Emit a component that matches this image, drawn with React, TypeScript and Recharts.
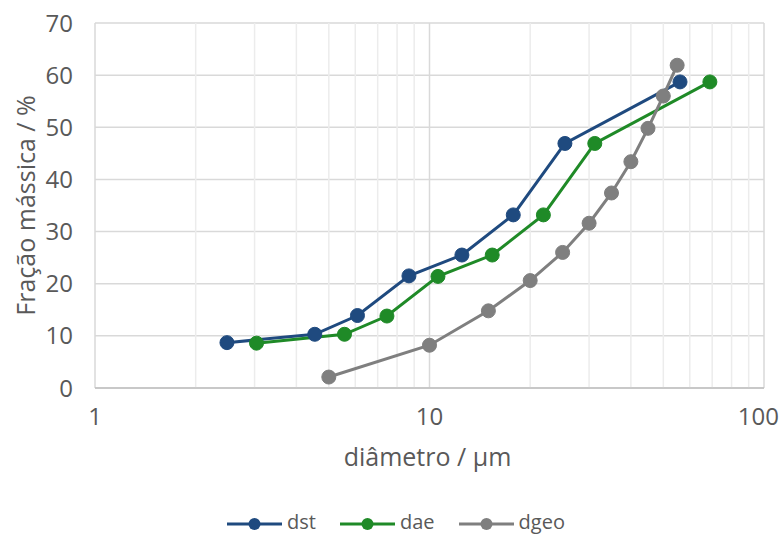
import { LineChart, Line, XAxis, YAxis, CartesianGrid, ReferenceLine, Legend } from "recharts";

// diâmetro (µm) / fração mássica (%) per series
const dstX = [2.48, 4.54, 6.09, 8.68, 12.5, 17.8, 25.4, 56.1];
const dstY = [8.7, 10.3, 13.9, 21.5, 25.5, 33.2, 46.9, 58.7];
const daeX = [3.04, 5.57, 7.46, 10.6, 15.4, 21.9, 31.2, 68.9];
const daeY = [8.6, 10.3, 13.8, 21.4, 25.5, 33.2, 46.9, 58.7];
const dgeoX = [5, 10, 15, 20, 25, 30, 35, 40, 45, 50, 55];
const dgeoY = [2.1, 8.2, 14.8, 20.6, 26.0, 31.6, 37.4, 43.4, 49.8, 56.0, 61.9];

const xTicks = [1, 10, 100];
const minorX = [2, 3, 4, 5, 6, 7, 8, 9, 20, 30, 40, 50, 60, 70, 80, 90];
const yTicks = [0, 10, 20, 30, 40, 50, 60, 70];

const toPoints = (xs: number[], ys: number[]) => xs.map((x, i) => ({ x, y: ys[i] }));

const series = [
  { name: "dst", color: "#1f4a7f", data: toPoints(dstX, dstY) },
  { name: "dae", color: "#1f8a27", data: toPoints(daeX, daeY) },
  { name: "dgeo", color: "#7f7f7f", data: toPoints(dgeoX, dgeoY) },
];

const FONT = "'Open Sans', sans-serif";
const TEXT = "#595959";

const LegendContent = () => (
  <div
    style={{
      height: 26,
      lineHeight: "26px",
      display: "flex",
      justifyContent: "center",
      alignItems: "center",
      gap: 24,
      fontFamily: FONT,
      fontSize: 20,
      color: TEXT,
      paddingLeft: 28,
    }}
  >
    {series.map((s) => (
      <div key={s.name} style={{ display: "flex", alignItems: "center", gap: 5, height: 26 }}>
        <svg width={55} height={14} style={{ display: "block", marginTop: 4 }}>
          <line x1={0} y1={7} x2={55} y2={7} stroke={s.color} strokeWidth={3} />
          <circle cx={27.5} cy={7} r={6} fill={s.color} />
        </svg>
        <span>{s.name}</span>
      </div>
    ))}
  </div>
);

// last label sits flush with the right edge, as in the source
const XTick = ({ x, y, payload, index, visibleTicksCount }: any) => {
  const last = index === visibleTicksCount - 1;
  return (
    <text
      x={last ? x + 15 : x}
      y={y}
      dy="0.71em"
      textAnchor={last ? "end" : "middle"}
      fontFamily={FONT}
      fontSize={24}
      fill={TEXT}
    >
      {payload.value}
    </text>
  );
};

const YTitle = ({ viewBox }: any) => {
  const cx = viewBox.x + 25;
  const cy = viewBox.y + viewBox.height / 2;
  return (
    <text
      x={cx}
      y={cy}
      transform={`rotate(-90 ${cx} ${cy})`}
      textAnchor="middle"
      dominantBaseline="central"
      fontFamily={FONT}
      fontSize={25}
      fill={TEXT}
    >
      Fração mássica / %
    </text>
  );
};

const XTitle = ({ viewBox }: any) => (
  <text
    x={viewBox.x + viewBox.width / 2 - 2}
    y={viewBox.y + 78}
    textAnchor="middle"
    fontFamily={FONT}
    fontSize={25}
    fill={TEXT}
  >
    diâmetro / µm
  </text>
);

export default function App() {
  return (
    <div style={{ position: "absolute", left: 0, top: 0, background: "#fff" }}>
      <LineChart width={780} height={535} margin={{ top: 23, right: 16, left: 0, bottom: 0 }}>
        <CartesianGrid vertical={false} stroke="#d9d9d9" strokeWidth={1.5} />
        {minorX.map((v) => (
          <ReferenceLine key={v} x={v} stroke="#ececec" strokeWidth={1.5} />
        ))}
        {xTicks.map((v) => (
          <ReferenceLine key={"M" + v} x={v} stroke="#d9d9d9" strokeWidth={1.5} />
        ))}
        <XAxis
          dataKey="x"
          type="number"
          scale="log"
          domain={[1, 100]}
          ticks={xTicks}
          allowDataOverflow
          height={121}
          stroke="#bfbfbf"
          strokeWidth={1.5}
          tickLine={false}
          tickMargin={14}
          tick={<XTick />}
          label={<XTitle />}
        />
        <YAxis
          type="number"
          domain={[0, 70]}
          ticks={yTicks}
          width={95}
          axisLine={false}
          tickLine={false}
          tickMargin={16}
          tick={{ fill: TEXT, fontSize: 24, fontFamily: FONT }}
          label={<YTitle />}
        />
        <Legend verticalAlign="bottom" content={<LegendContent />} />
        {series.map((s) => (
          <Line
            key={s.name}
            data={s.data}
            dataKey="y"
            name={s.name}
            stroke={s.color}
            strokeWidth={3}
            dot={{ r: 7, fill: s.color, stroke: s.color, strokeWidth: 1 }}
            activeDot={false}
            isAnimationActive={false}
          />
        ))}
      </LineChart>
    </div>
  );
}
